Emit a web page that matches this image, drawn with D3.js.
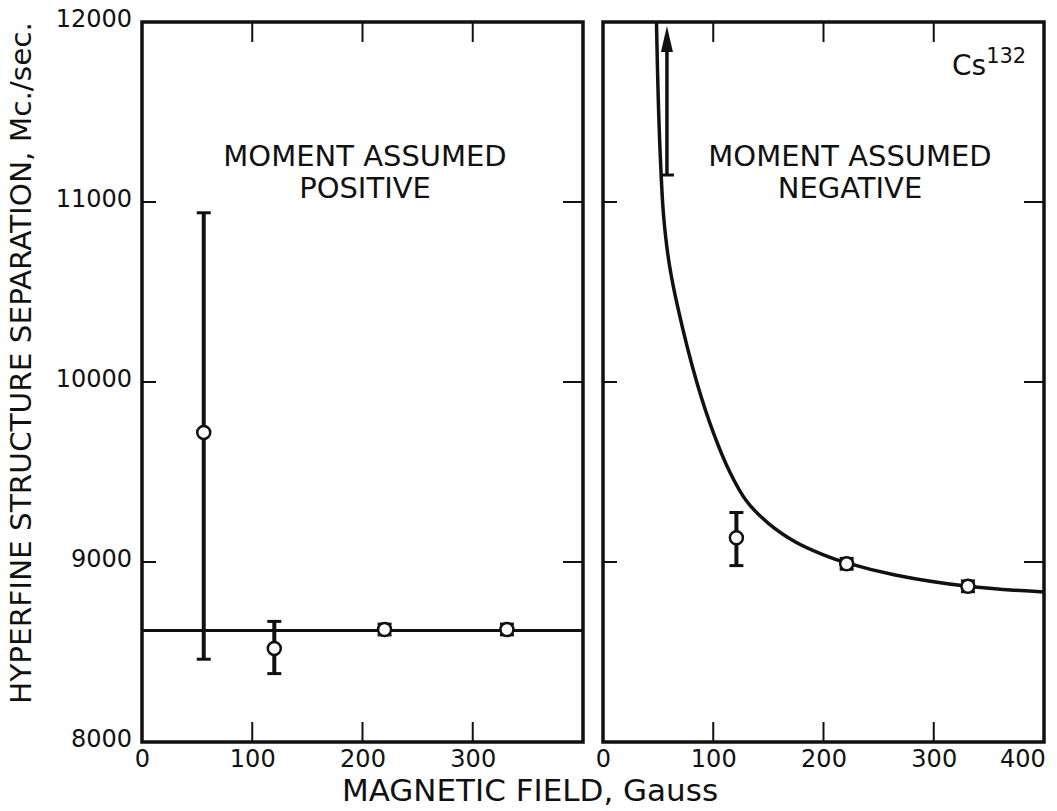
<!DOCTYPE html>
<html>
<head>
<meta charset="utf-8">
<script src="https://cdn.jsdelivr.net/npm/d3@7"></script>
<style>
body { margin: 0; background: #fff; }
text { font-family: "DejaVu Sans", sans-serif; fill: #111; }
</style>
</head>
<body>
<div id="chart"></div>
<script>
var svgWidth = 1057;
var svgHeight = 811;

// field values in gauss, hfs values in Mc./sec.
var posField = [56, 120, 220, 331];
var posValue = [9720, 8520, 8625, 8625];
var posLow = [8460, 8380, 8595, 8595];
var posHigh = [10940, 8670, 8655, 8655];
var posFit = 8620;

var negField = [121, 221, 331];
var negValue = [9135, 8990, 8865];
var negLow = [8980, 8960, 8835];
var negHigh = [9275, 9020, 8895];
// lower limit only, arrow goes off the top
var negArrowField = 58;
var negArrowLow = 11150;

var curveField = [48.5, 50, 52, 55, 60, 68, 85, 100, 115, 130, 150, 175, 200, 221, 265, 331, 400];
var curveValue = [12000, 11600, 11250, 10920, 10660, 10410, 10000, 9720, 9500, 9340, 9215, 9110, 9040, 8995, 8928, 8865, 8833];

var xTicksLeft = [0, 100, 200, 300];
var xTicksRight = [0, 100, 200, 300, 400];
var yTicks = [8000, 9000, 10000, 11000, 12000];

var plotTop = 22, plotBottom = 742;
var leftPanel = {x0: 142, x1: 583};
var rightPanel = {x0: 603, x1: 1044};

var svg = d3.select("#chart")
    .append("svg")
    .attr("width", svgWidth)
    .attr("height", svgHeight);

var yScale = d3.scaleLinear()
    .domain([8000, 12000])
    .range([plotBottom, plotTop]);

var xLeft = d3.scaleLinear().domain([0, 400]).range([leftPanel.x0, leftPanel.x1]);
var xRight = d3.scaleLinear().domain([0, 400]).range([rightPanel.x0, rightPanel.x1]);

function drawFrame(x, ticks, p) {
    var g = svg.append("g");
    // inner ticks top & bottom
    ticks.filter(t => t > 0 && t < 400).forEach(function(t) {
        g.append("line").attr("x1", x(t)).attr("x2", x(t))
            .attr("y1", plotBottom).attr("y2", plotBottom - 20)
            .attr("stroke", "#111").attr("stroke-width", 2);
        g.append("line").attr("x1", x(t)).attr("x2", x(t))
            .attr("y1", plotTop).attr("y2", plotTop + 20)
            .attr("stroke", "#111").attr("stroke-width", 2);
    });
    [9000, 10000, 11000].forEach(function(v) {
        g.append("line").attr("x1", p.x0).attr("x2", p.x0 + 14)
            .attr("y1", yScale(v)).attr("y2", yScale(v))
            .attr("stroke", "#111").attr("stroke-width", 2);
        g.append("line").attr("x1", p.x1).attr("x2", p.x1 - 20)
            .attr("y1", yScale(v)).attr("y2", yScale(v))
            .attr("stroke", "#111").attr("stroke-width", 2);
    });
    g.append("rect")
        .attr("x", p.x0).attr("y", plotTop)
        .attr("width", p.x1 - p.x0).attr("height", plotBottom - plotTop)
        .attr("fill", "none").attr("stroke", "#111").attr("stroke-width", 3.5);

    // tick labels
    var axis = d3.axisBottom(x).tickValues(ticks).tickSize(0).tickPadding(0).tickFormat(d3.format("d"));
    var ax = svg.append("g")
        .attr("transform", `translate(0, ${plotBottom + 8})`)
        .call(axis);
    ax.select(".domain").remove();
    ax.selectAll("text")
        .attr("dy", "0.71em")
        .style("font-size", "24px")
        .style("font-family", "DejaVu Sans, sans-serif");
    return ax;
}

drawFrame(xLeft, xTicksLeft, leftPanel);
var axR = drawFrame(xRight, xTicksRight, rightPanel);
axR.selectAll("text").filter(d => d === 400).attr("dx", "-0.9em");

var yAxis = svg.append("g")
    .attr("transform", `translate(${leftPanel.x0 - 10}, 0)`)
    .call(d3.axisLeft(yScale).tickValues(yTicks).tickSize(0).tickPadding(0).tickFormat(d3.format("d")));
yAxis.select(".domain").remove();
yAxis.selectAll("text")
    .attr("dy", "0.2em")
    .style("font-size", "24px")
    .style("font-family", "DejaVu Sans, sans-serif");

// left panel: fit line and points
svg.append("line")
    .attr("x1", xLeft(0)).attr("x2", xLeft(400))
    .attr("y1", yScale(posFit)).attr("y2", yScale(posFit))
    .attr("stroke", "#111").attr("stroke-width", 3);

function drawPoints(x, field, value, low, high) {
    field.forEach(function(f, i) {
        var cx = x(f);
        svg.append("line").attr("x1", cx).attr("x2", cx)
            .attr("y1", yScale(low[i])).attr("y2", yScale(high[i]))
            .attr("stroke", "#111").attr("stroke-width", 4);
        [low[i], high[i]].forEach(function(v) {
            svg.append("line").attr("x1", cx - 7).attr("x2", cx + 7)
                .attr("y1", yScale(v)).attr("y2", yScale(v))
                .attr("stroke", "#111").attr("stroke-width", 3);
        });
        svg.append("circle")
            .attr("cx", cx).attr("cy", yScale(value[i]))
            .attr("r", 6.5)
            .attr("fill", "#fff").attr("stroke", "#111").attr("stroke-width", 2.5);
    });
}

drawPoints(xLeft, posField, posValue, posLow, posHigh);

// right panel curve
var line = d3.line()
    .x(d => xRight(d[0]))
    .y(d => yScale(d[1]))
    .curve(d3.curveCatmullRom.alpha(0.5));

svg.append("path")
    .datum(d3.zip(curveField, curveValue))
    .attr("d", line)
    .attr("fill", "none")
    .attr("stroke", "#111")
    .attr("stroke-width", 3.5);

drawPoints(xRight, negField, negValue, negLow, negHigh);

// arrow for lower limit
var ax0 = xRight(negArrowField);
svg.append("line").attr("x1", ax0).attr("x2", ax0)
    .attr("y1", yScale(negArrowLow)).attr("y2", plotTop + 20)
    .attr("stroke", "#111").attr("stroke-width", 3.5);
svg.append("line").attr("x1", ax0 - 7).attr("x2", ax0 + 7)
    .attr("y1", yScale(negArrowLow)).attr("y2", yScale(negArrowLow))
    .attr("stroke", "#111").attr("stroke-width", 3);
svg.append("path")
    .attr("d", `M${ax0},${plotTop + 4} L${ax0 - 6},${plotTop + 30} L${ax0 + 6},${plotTop + 30} Z`)
    .attr("fill", "#111");

// panel titles
function title(cx, lines) {
    lines.forEach(function(t, i) {
        svg.append("text")
            .attr("x", cx).attr("y", 166 + i * 32)
            .attr("text-anchor", "middle")
            .style("font-size", "29px")
            .text(t);
    });
}
title(365, ["MOMENT ASSUMED", "POSITIVE"]);
title(850, ["MOMENT ASSUMED", "NEGATIVE"]);

var cs = svg.append("text")
    .attr("x", 952).attr("y", 75)
    .style("font-size", "28px");
cs.append("tspan").text("Cs");
cs.append("tspan").attr("dy", -12).style("font-size", "21px").text("132");

// axis titles
svg.append("text")
    .attr("x", 530).attr("y", 801)
    .attr("text-anchor", "middle")
    .style("font-size", "31px")
    .text("MAGNETIC FIELD, Gauss");

svg.append("text")
    .attr("transform", "rotate(-90)")
    .attr("x", -363).attr("y", 31)
    .attr("text-anchor", "middle")
    .attr("textLength", 682)
    .attr("lengthAdjust", "spacingAndGlyphs")
    .style("font-size", "29px")
    .style("font-family", "DejaVu Sans Condensed, DejaVu Sans, sans-serif")
    .text("HYPERFINE STRUCTURE SEPARATION, Mc./sec.");
</script>
</body>
</html>
